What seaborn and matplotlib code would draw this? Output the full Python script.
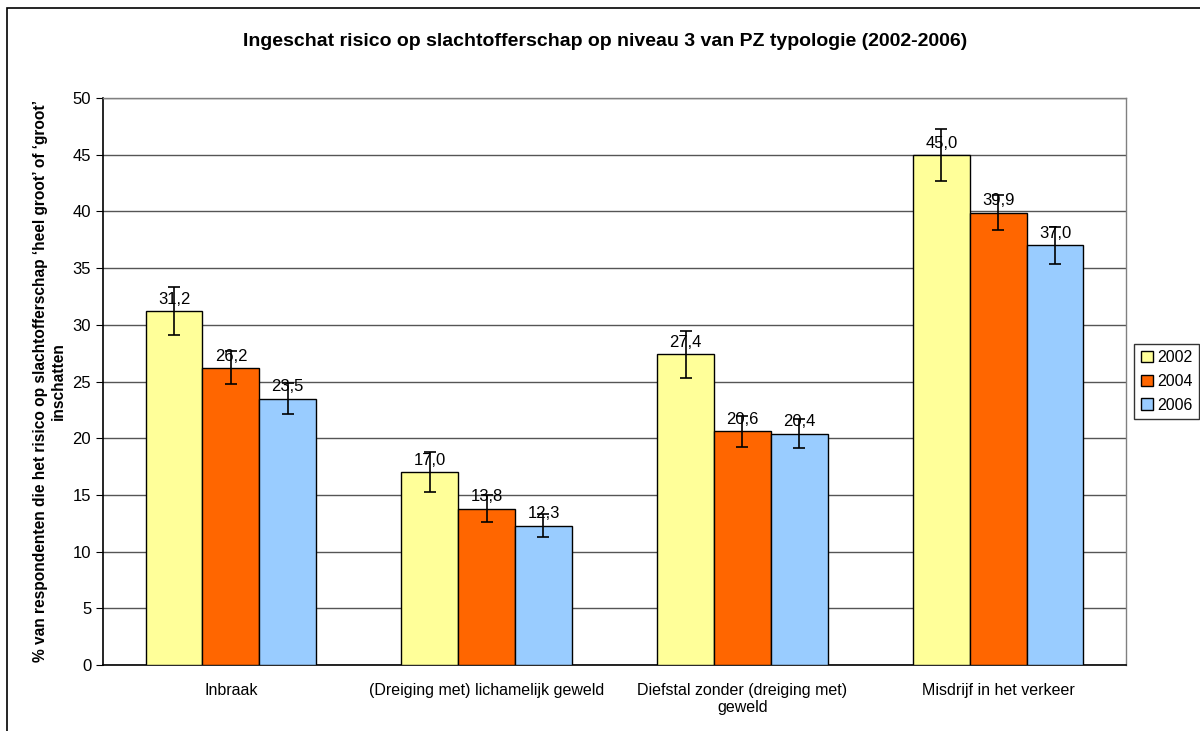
import matplotlib
matplotlib.use("Agg")
import matplotlib.pyplot as plt
from matplotlib.patches import Rectangle
import seaborn as sns
import numpy as np
import pandas as pd

# data
categories = ["Inbraak", "(Dreiging met) lichamelijk geweld",
              "Diefstal zonder (dreiging met)\ngeweld", "Misdrijf in het verkeer"]
years = ["2002", "2004", "2006"]
v2002 = [31.2, 17.0, 27.4, 45.0]
v2004 = [26.2, 13.8, 20.6, 39.9]
v2006 = [23.5, 12.3, 20.4, 37.0]
e2002 = [2.1, 1.75, 2.05, 2.3]
e2004 = [1.45, 1.15, 1.35, 1.55]
e2006 = [1.35, 1.0, 1.3, 1.6]
colors = ["#FFFF99", "#FF6600", "#99CCFF"]

sns.set_style("white")
plt.rcParams["font.family"] = ["Liberation Sans", "DejaVu Sans"]
plt.rcParams["text.color"] = "black"
plt.rcParams["axes.labelcolor"] = "black"
plt.rcParams["xtick.color"] = "black"
plt.rcParams["ytick.color"] = "black"

df = pd.DataFrame({
    "cat": categories * 3,
    "year": [y for y in years for _ in categories],
    "val": v2002 + v2004 + v2006,
})
errs = [e2002, e2004, e2006]

fig = plt.figure(figsize=(12, 7.31), dpi=100)
ax = fig.add_axes([103 / 1200, 1 - 665 / 731, (1126 - 103) / 1200, (665 - 98) / 731])

sns.barplot(data=df, x="cat", y="val", hue="year", palette=colors, width=0.667,
            saturation=1, edgecolor="black", linewidth=1, errorbar=None, ax=ax, zorder=3)

for cont, err in zip(ax.containers, errs):
    xs = [b.get_x() + b.get_width() / 2 for b in cont]
    hs = [b.get_height() for b in cont]
    ax.errorbar(xs, hs, yerr=err, fmt="none", ecolor="black", elinewidth=1.2,
                capsize=4, capthick=1.2, zorder=4)
    for x, h in zip(xs, hs):
        ax.annotate(f"{h:.1f}".replace(".", ","), (x, h), xytext=(0, 3),
                    textcoords="offset points", ha="center", va="bottom",
                    fontsize=12, color="black", zorder=5)

ax.set_ylim(0, 50)
ax.set_xlim(-0.5, 3.5)
ax.set_yticks(np.arange(0, 51, 5))
ax.yaxis.grid(True, color="#555555", linewidth=1)
ax.set_axisbelow(True)
ax.set_xticks(range(4))
ax.set_xticklabels(categories, fontsize=11.5)
ax.set_xticks(np.arange(-0.5, 4, 1), minor=True)
ax.tick_params(axis="x", which="major", length=0, pad=13)
ax.tick_params(axis="x", which="minor", length=5, direction="out", color="black")
ax.tick_params(axis="y", length=5, direction="out", left=True, labelsize=12, color="black")
ax.set_xlabel("")
ax.set_ylabel("% van respondenten die het risico op slachtofferschap \u2018heel groot\u2019 of \u2018groot\u2019\ninschatten",
              fontsize=11.2, fontweight="bold", labelpad=5)

for s in ["left", "bottom"]:
    ax.spines[s].set_color("black")
    ax.spines[s].set_linewidth(1.2)
for s in ["top", "right"]:
    ax.spines[s].set_color("#808080")
    ax.spines[s].set_linewidth(1)

fig.text(605 / 1200, 1 - 42 / 731, "Ingeschat risico op slachtofferschap op niveau 3 van PZ typologie (2002-2006)",
         ha="center", va="center", fontsize=14, fontweight="bold", color="black")

ax.legend(loc="center left", bbox_to_anchor=(1.008, 0.5), frameon=True, fancybox=False,
          edgecolor="black", fontsize=11.5, handlelength=0.75, handleheight=0.75,
          handletextpad=0.3, borderpad=0.4, labelspacing=0.55, borderaxespad=0)

fig.patches.append(Rectangle((7 / 1200, -0.02), 1.1, 1 - 8 / 731 + 0.02, transform=fig.transFigure,
                             fill=False, edgecolor="black", linewidth=1.2))

fig.savefig("out.png", dpi=100)
